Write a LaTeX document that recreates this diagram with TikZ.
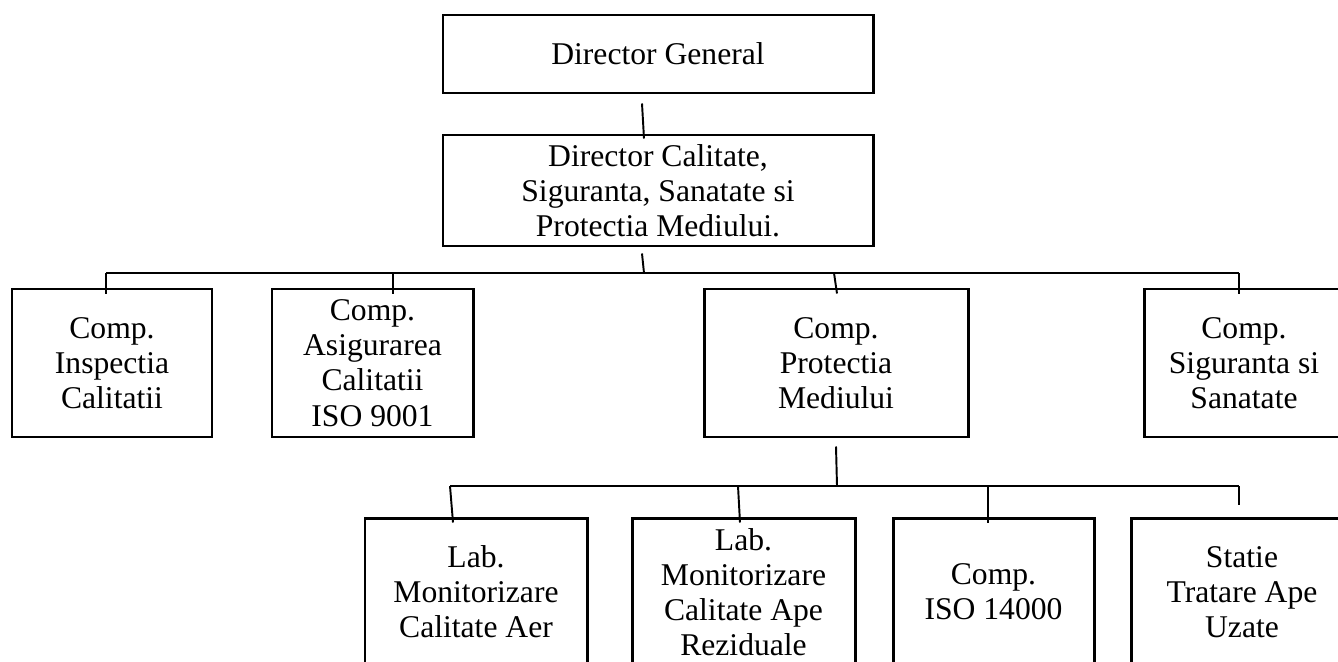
\documentclass[tikz,border=0pt]{standalone}
\usepackage{fontspec}
\setmainfont{Liberation Serif}
\usetikzlibrary{calc}

\begin{document}
\begin{tikzpicture}[
  box/.style={rectangle,draw,line width=1.7pt,align=center,inner sep=2pt,
              font=\fontsize{18}{20}\selectfont,minimum height=2.96cm},
  link/.style={draw,line width=1.1pt}
]
\useasboundingbox (0,0) rectangle (26.76,-13.22);
\clip (0,0) rectangle (26.76,-13.22);

% conducere
\node[box,minimum width=8.6cm,minimum height=1.56cm] (dg) at (13.16,-1.08) {Director General};
\node[box,minimum width=8.6cm,minimum height=2.22cm] (dc) at (13.16,-3.81)
  {Director Calitate,\\Siguranta, Sanatate si\\Protectia Mediului.};

% compartimente
\node[box,minimum width=4cm]    (insp) at (2.24,-7.26)  {Comp.\\Inspectia\\Calitatii};
\node[box,minimum width=4.02cm] (asig) at (7.45,-7.26)  {Comp.\\Asigurarea\\Calitatii\\ISO 9001};
\node[box,minimum width=5.28cm] (prot) at (16.72,-7.26) {Comp.\\Protectia\\Mediului};
\node[box,minimum width=4cm]    (sig)  at (24.88,-7.26) {Comp.\\Siguranta si\\Sanatate};

% protectia mediului
\node[box,minimum width=4.44cm] (aer)    at (9.52,-11.84)  {Lab.\\Monitorizare\\Calitate Aer};
\node[box,minimum width=4.46cm] (ape)    at (14.87,-11.84) {Lab.\\Monitorizare\\Calitate Ape\\Reziduale};
\node[box,minimum width=4.02cm] (iso)    at (19.87,-11.84) {Comp.\\ISO 14000};
\node[box,minimum width=4.44cm] (statie) at (24.84,-11.84) {Statie\\Tratare Ape\\Uzate};

\coordinate (bus1) at (0,-5.46);
\coordinate (bus2) at (0,-9.72);

% legaturi
\draw[link] ([xshift=-0.32cm,yshift=-0.18cm]dg.south) -- ([xshift=-0.28cm,yshift=-0.1cm]dc.north);
\draw[link] ([xshift=-0.32cm,yshift=-0.12cm]dc.south) -- ([xshift=-0.28cm]dc.south |- bus1);

\draw[link] ([xshift=-0.12cm]insp.north |- bus1) -- ([xshift=-0.1cm]sig.north |- bus1);
\foreach \n/\dx in {insp/-0.12, asig/0.41, sig/-0.1}
  \draw[link] ([xshift=\dx cm]\n.north |- bus1) -- ([xshift=\dx cm,yshift=-0.12cm]\n.north);
\draw[link] ([xshift=-0.04cm]prot.north |- bus1) -- ([xshift=0.02cm,yshift=-0.12cm]prot.north);

\draw[link] ([yshift=-0.16cm]prot.south) -- ([xshift=0.02cm]prot.south |- bus2);
\draw[link] ([xshift=-0.52cm]aer.north |- bus2) -- ([xshift=-0.06cm]statie.north |- bus2);
\foreach \n/\dx/\dxb/\dy in {aer/-0.52/-0.46/-0.12, ape/-0.11/-0.07/-0.12,
                             iso/-0.11/-0.11/-0.12, statie/-0.06/-0.06/0.24}
  \draw[link] ([xshift=\dx cm]\n.north |- bus2) -- ([xshift=\dxb cm,yshift=\dy cm]\n.north);
\end{tikzpicture}
\end{document}
